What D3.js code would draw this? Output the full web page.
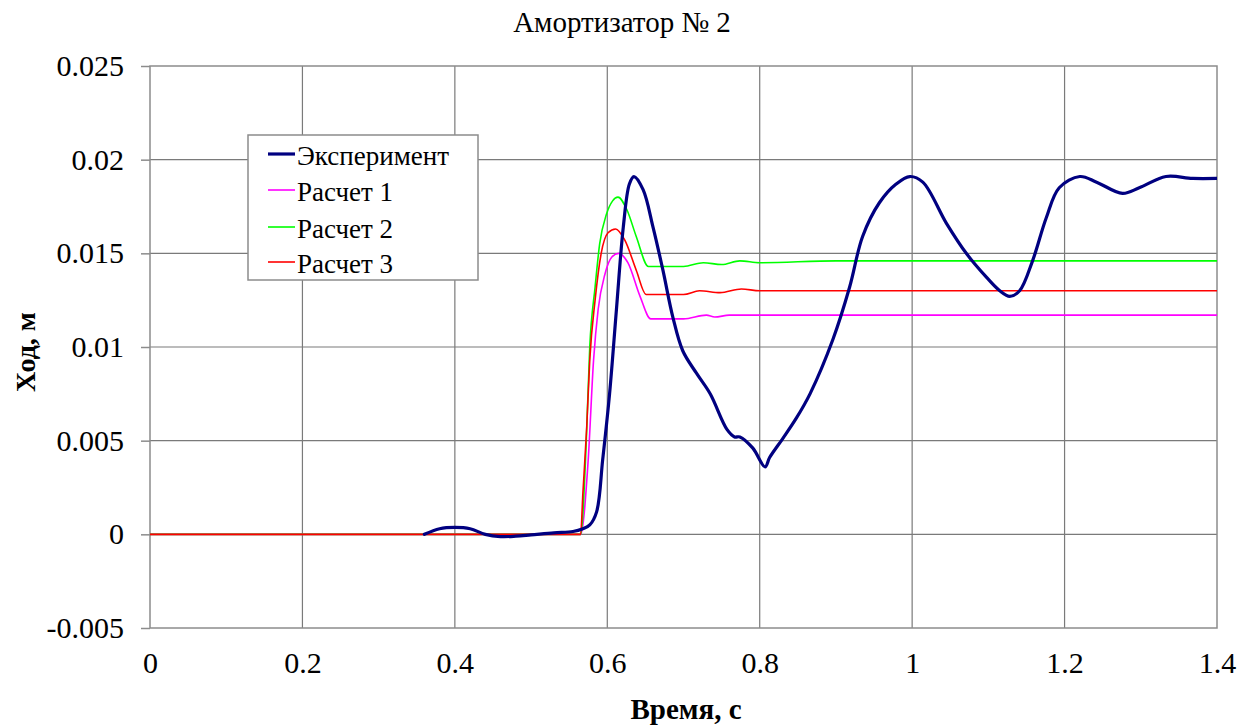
<!DOCTYPE html>
<html>
<head>
<meta charset="utf-8">
<script src="https://cdn.jsdelivr.net/npm/d3@7"></script>
<style>
  html, body { margin: 0; padding: 0; background: #fff; }
  svg { display: block; }
</style>
</head>
<body>
<svg id="chart" width="1253" height="727"></svg>
<script>
// Shock absorber stroke over time: measurement and three calculations
const title = "Амортизатор № 2";
const xLabel = "Время, с";
const yLabel = "Ход, м";

const xTicks = [0, 0.2, 0.4, 0.6, 0.8, 1.0, 1.2, 1.4];
const xTickLabels = ["0", "0.2", "0.4", "0.6", "0.8", "1", "1.2", "1.4"];
const yTicks = [-0.005, 0, 0.005, 0.01, 0.015, 0.02, 0.025];
const yTickLabels = ["-0.005", "0", "0.005", "0.01", "0.015", "0.02", "0.025"];

// Эксперимент
const expT = [0.36, 0.38, 0.40, 0.42, 0.44, 0.46, 0.48, 0.50, 0.53, 0.555, 0.568, 0.577, 0.586, 0.594, 0.603, 0.612, 0.621, 0.629, 0.635, 0.647, 0.660, 0.673, 0.686, 0.699, 0.717, 0.735, 0.757, 0.767, 0.774, 0.791, 0.807, 0.813, 0.830, 0.848, 0.866, 0.896, 0.918, 0.935, 0.957, 0.979, 0.997, 1.014, 1.045, 1.071, 1.098, 1.115, 1.128, 1.141, 1.158, 1.176, 1.193, 1.220, 1.242, 1.276, 1.298, 1.333, 1.368, 1.40];
const expV = [0, 0.0003, 0.00037, 0.0003, 0.0000, -0.00012, -0.0001, -0.00003, 0.00008, 0.00015, 0.0003, 0.0005, 0.0012, 0.004, 0.0075, 0.012, 0.0164, 0.0187, 0.0191, 0.0184, 0.0164, 0.0141, 0.0116, 0.0098, 0.0086, 0.0075, 0.0056, 0.0052, 0.0052, 0.0046, 0.0036, 0.0041, 0.0051, 0.0062, 0.0075, 0.0104, 0.0132, 0.0159, 0.0177, 0.0187, 0.0191, 0.0188, 0.0166, 0.0150, 0.0137, 0.0130, 0.0127, 0.0130, 0.0146, 0.0169, 0.0185, 0.0191, 0.0188, 0.0182, 0.0185, 0.0191, 0.0190, 0.0190];

// Расчет 1
const calc1T = [0, 0.565, 0.575, 0.582, 0.588, 0.597, 0.606, 0.615, 0.627, 0.643, 0.657, 0.700, 0.730, 0.741, 0.760, 0.780, 0.850, 1.0, 1.2, 1.4];
const calc1V = [0, 0, 0.0040, 0.0093, 0.0120, 0.0139, 0.0148, 0.0150, 0.0145, 0.0127, 0.0115, 0.0115, 0.0117, 0.0116, 0.0117, 0.0117, 0.0117, 0.0117, 0.0117, 0.0117];

// Расчет 2
const calc2T = [0, 0.565, 0.572, 0.577, 0.584, 0.590, 0.599, 0.607, 0.614, 0.626, 0.638, 0.654, 0.700, 0.726, 0.750, 0.774, 0.800, 0.900, 1.0, 1.2, 1.4];
const calc2V = [0, 0, 0.0045, 0.0100, 0.0132, 0.0155, 0.0171, 0.0178, 0.0180, 0.0173, 0.0159, 0.0143, 0.0143, 0.0145, 0.0144, 0.0146, 0.0145, 0.0146, 0.0146, 0.0146, 0.0146];

// Расчет 3
const calc3T = [0, 0.565, 0.568, 0.573, 0.577, 0.584, 0.592, 0.601, 0.611, 0.623, 0.638, 0.651, 0.700, 0.721, 0.748, 0.776, 0.800, 0.900, 1.0, 1.2, 1.4];
const calc3V = [0, 0, 0.0022, 0.0057, 0.0093, 0.0125, 0.0150, 0.0161, 0.0163, 0.0157, 0.0141, 0.0128, 0.0128, 0.0130, 0.0129, 0.0131, 0.0130, 0.0130, 0.0130, 0.0130, 0.0130];

const seriesNames = ["Эксперимент", "Расчет 1", "Расчет 2", "Расчет 3"];
const seriesColors = ["#000080", "#ff00ff", "#00ff00", "#ff0000"];

const series = [
  { name: seriesNames[0], color: seriesColors[0], width: 3.2, t: expT, v: expV, curve: d3.curveCatmullRom.alpha(0.5) },
  { name: seriesNames[1], color: seriesColors[1], width: 1.6, t: calc1T, v: calc1V, curve: d3.curveMonotoneX },
  { name: seriesNames[2], color: seriesColors[2], width: 1.6, t: calc2T, v: calc2V, curve: d3.curveMonotoneX },
  { name: seriesNames[3], color: seriesColors[3], width: 1.6, t: calc3T, v: calc3V, curve: d3.curveMonotoneX }
];

const FONT = "'Liberation Serif', 'Times New Roman', serif";

const svg = d3.select("#chart");
const plot = { left: 150, right: 1217, top: 66, bottom: 628 };

const x = d3.scaleLinear().domain([0, 1.4]).range([plot.left, plot.right]);
const y = d3.scaleLinear().domain([-0.005, 0.025]).range([plot.bottom, plot.top]);

// Grid
const grid = svg.append("g");
grid.selectAll("line.v").data(xTicks.slice(1, -1)).enter().append("line")
  .attr("x1", d => x(d)).attr("x2", d => x(d))
  .attr("y1", plot.top).attr("y2", plot.bottom)
  .attr("stroke", "#7a7a7a").attr("stroke-width", 1.2);
grid.selectAll("line.h").data(yTicks.slice(1, -1)).enter().append("line")
  .attr("x1", plot.left).attr("x2", plot.right)
  .attr("y1", d => y(d)).attr("y2", d => y(d))
  .attr("stroke", "#7a7a7a").attr("stroke-width", 1.2);

// Plot frame
svg.append("rect")
  .attr("x", plot.left).attr("y", plot.top)
  .attr("width", plot.right - plot.left).attr("height", plot.bottom - plot.top)
  .attr("fill", "none").attr("stroke", "#8c8c8c").attr("stroke-width", 1.5);

// Axes
const xAxis = d3.axisBottom(x).tickValues(xTicks)
  .tickFormat((d, i) => xTickLabels[i]).tickSize(0).tickPadding(24);
const gx = svg.append("g").attr("transform", `translate(0,${plot.bottom})`).call(xAxis);
gx.select(".domain").remove();
gx.selectAll("text").style("font-family", FONT).style("font-size", "30px").attr("fill", "#000");

const yAxis = d3.axisLeft(y).tickValues(yTicks)
  .tickFormat((d, i) => yTickLabels[i]).tickSize(9).tickPadding(17);
const gy = svg.append("g").attr("transform", `translate(${plot.left},0)`).call(yAxis);
gy.select(".domain").remove();
gy.selectAll("line").attr("stroke", "#8c8c8c").attr("stroke-width", 1.5);
gy.selectAll("text").style("font-family", FONT).style("font-size", "30px").attr("fill", "#000");

// Series lines
svg.append("clipPath").attr("id", "plotClip").append("rect")
  .attr("x", plot.left).attr("y", plot.top)
  .attr("width", plot.right - plot.left).attr("height", plot.bottom - plot.top);

const linesG = svg.append("g").attr("clip-path", "url(#plotClip)");
// calculations first, measurement on top
[1, 2, 3, 0].forEach(i => {
  const s = series[i];
  const pts = s.t.map((t, k) => [t, s.v[k]]);
  const line = d3.line().x(d => x(d[0])).y(d => y(d[1])).curve(s.curve);
  linesG.append("path")
    .attr("d", line(pts))
    .attr("fill", "none")
    .attr("stroke", s.color)
    .attr("stroke-width", s.width)
    .attr("stroke-linejoin", "round")
    .attr("stroke-linecap", "round");
});

// Title and axis labels
svg.append("text").attr("x", 622).attr("y", 32)
  .attr("text-anchor", "middle")
  .style("font-family", FONT).style("font-size", "29px").text(title);
svg.append("text").attr("x", 686).attr("y", 719)
  .attr("text-anchor", "middle")
  .style("font-family", FONT).style("font-size", "29px").style("font-weight", "bold").text(xLabel);
svg.append("text").attr("transform", "translate(35,352) rotate(-90)")
  .attr("text-anchor", "middle")
  .style("font-family", FONT).style("font-size", "28px").style("font-weight", "bold").text(yLabel);

// Legend
const legend = svg.append("g");
legend.append("rect")
  .attr("x", 248).attr("y", 135).attr("width", 230).attr("height", 145)
  .attr("fill", "#fff").attr("stroke", "#8c8c8c").attr("stroke-width", 1.5);
const legendRowsY = [154, 190, 227, 262];
series.forEach((s, i) => {
  const yy = legendRowsY[i];
  legend.append("line")
    .attr("x1", 268).attr("x2", 295).attr("y1", yy).attr("y2", yy)
    .attr("stroke", s.color).attr("stroke-width", i === 0 ? 3.2 : 1.6);
  legend.append("text").attr("x", 297).attr("y", yy + 11)
    .style("font-family", FONT).style("font-size", "27px").text(s.name);
});
</script>
</body>
</html>
